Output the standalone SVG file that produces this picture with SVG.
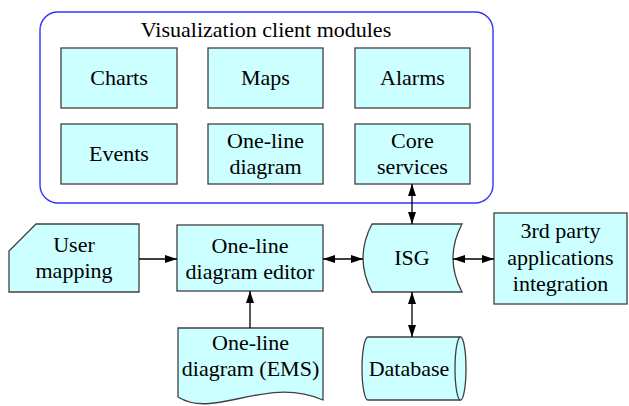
<svg xmlns="http://www.w3.org/2000/svg" width="629" height="406" viewBox="0 0 629 406">
<style>
.n{fill:#ccffff;stroke:#404040;stroke-width:1.3}
.t{font-family:'Liberation Serif',Tinos,'Times New Roman','DejaVu Serif',serif;font-size:22px;fill:#000;text-anchor:middle}
.c{stroke:#000;stroke-width:1.3;fill:none}
</style>
<defs>
<marker id="ah" viewBox="0 0 12 8" refX="12" refY="4" markerWidth="12" markerHeight="8" markerUnits="userSpaceOnUse" orient="auto-start-reverse">
<path d="M0,0 L12,4 L0,8 Z" fill="#000"/>
</marker>
</defs>
<rect width="629" height="406" fill="#fff"/>
<g id="container">
<rect x="40" y="12" width="453" height="191" rx="18" ry="18" fill="#fff" stroke="#3333ff" stroke-width="1.4"/>
<text class="t" x="266" y="37" font-family="Liberation Serif, serif">Visualization client modules</text>
</g>
<g id="charts"><rect class="n" x="61" y="48" width="116" height="60"/><text class="t" x="119" y="85">Charts</text></g>
<g id="maps"><rect class="n" x="208" y="48" width="115" height="60"/><text class="t" x="265.5" y="85">Maps</text></g>
<g id="alarms"><rect class="n" x="355" y="48" width="115" height="60"/><text class="t" x="412.5" y="85">Alarms</text></g>
<g id="events"><rect class="n" x="61" y="124" width="116" height="60"/><text class="t" x="119" y="161">Events</text></g>
<g id="oneline"><rect class="n" x="208" y="124" width="115" height="60"/><text class="t" x="265.5" y="148">One-line</text><text class="t" x="265.5" y="174">diagram</text></g>
<g id="core"><rect class="n" x="355" y="124" width="115" height="60"/><text class="t" x="412.5" y="148">Core</text><text class="t" x="412.5" y="174">services</text></g>
<g id="usermapping"><path class="n" d="M36,224 L139,224 L139,292 L9,292 L9,251 Z"/><text class="t" x="74" y="252">User</text><text class="t" x="74" y="278">mapping</text></g>
<g id="editor"><rect class="n" x="177" y="225" width="146" height="66"/><text class="t" x="250" y="253">One-line</text><text class="t" x="250" y="279">diagram editor</text></g>
<g id="ems"><path class="n" d="M178,328 L323,328 L323,400 C265,375 215,420 178,397 Z"/><text class="t" x="250.5" y="350">One-line</text><text class="t" x="250.5" y="376">diagram (EMS)</text></g>
<g id="isg"><path class="n" d="M372,224 L462,224 Q444,258 462,292 L372,292 Q354,258 372,224 Z"/><text class="t" x="412" y="265">ISG</text></g>
<g id="database"><path class="n" d="M368,337 L460.5,337 A5.5,31.5 0 0 1 460.5,400 L368,400 A6,31.5 0 0 1 368,337 Z"/><path class="n" fill="none" d="M460.5,337 A5.5,31.5 0 0 0 460.5,400"/><text class="t" x="409" y="376">Database</text></g>
<g id="thirdparty"><rect class="n" x="494" y="213" width="133" height="91"/><text class="t" x="560.5" y="238">3rd party</text><text class="t" x="560.5" y="265">applications</text><text class="t" x="560.5" y="291">integration</text></g>
<g id="connectors">
<line class="c" x1="139" y1="259" x2="177" y2="259" marker-end="url(#ah)"/>
<line class="c" x1="323" y1="259" x2="363" y2="259" marker-start="url(#ah)" marker-end="url(#ah)"/>
<line class="c" x1="453" y1="259" x2="494" y2="259" marker-start="url(#ah)" marker-end="url(#ah)"/>
<line class="c" x1="412" y1="184" x2="412" y2="224" marker-start="url(#ah)" marker-end="url(#ah)"/>
<line class="c" x1="412" y1="292" x2="412" y2="337" marker-start="url(#ah)" marker-end="url(#ah)"/>
<line class="c" x1="250" y1="328" x2="250" y2="291" marker-end="url(#ah)"/>
</g>
</svg>
